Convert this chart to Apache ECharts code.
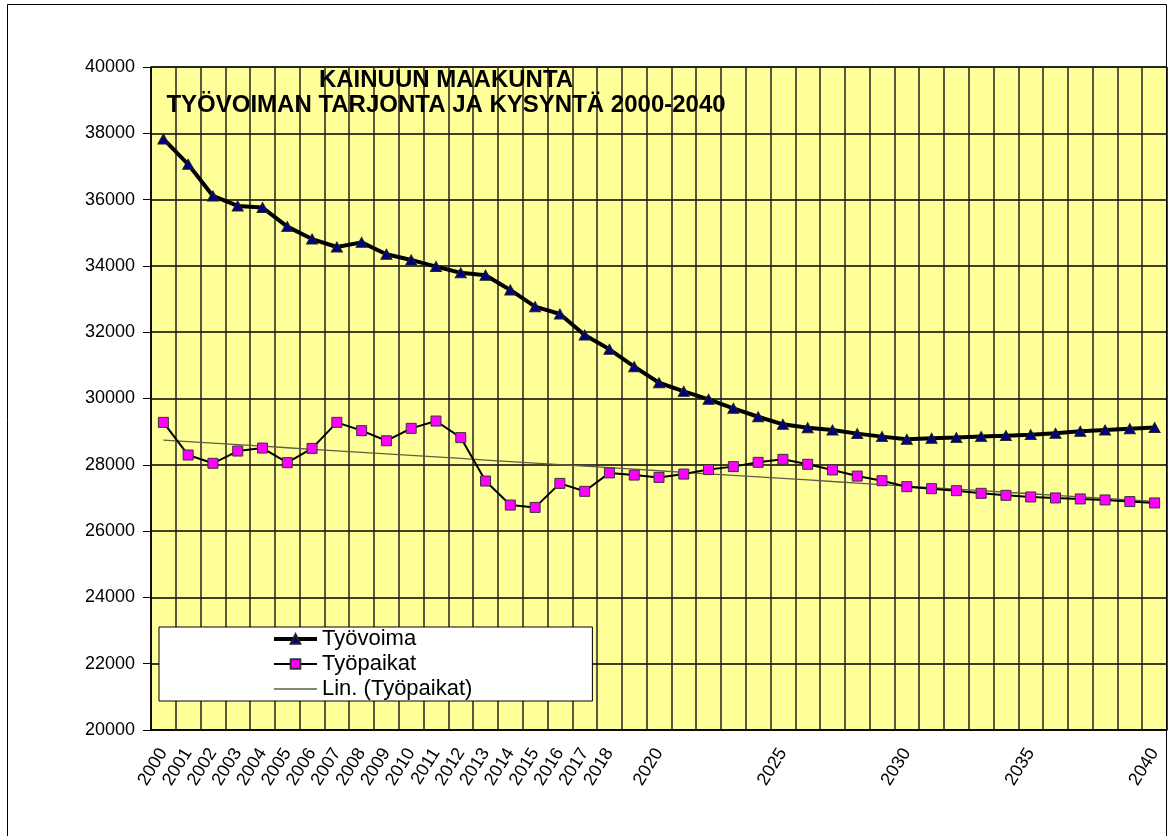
<!DOCTYPE html>
<html>
<head>
<meta charset="utf-8">
<script src="https://cdn.jsdelivr.net/npm/echarts@6/dist/echarts.min.js"></script>
<style>
html, body { margin: 0; padding: 0; background: #fff; }
#chart { width: 1168px; height: 836px; }
</style>
</head>
<body>
<div id="chart"></div>
<script>
// vuodet (x-akseli)
var vuodet = ['2000','2001','2002','2003','2004','2005','2006','2007','2008','2009',
  '2010','2011','2012','2013','2014','2015','2016','2017','2018','2019',
  '2020','2021','2022','2023','2024','2025','2026','2027','2028','2029',
  '2030','2031','2032','2033','2034','2035','2036','2037','2038','2039','2040'];

// työvoiman tarjonta
var tyovoima = [37830, 37065, 36110, 35810, 35760, 35185, 34810, 34570, 34710, 34350,
  34180, 33980, 33790, 33720, 33275, 32770, 32550, 31915, 31485, 30960,
  30475, 30215, 29975, 29705, 29450, 29220, 29120, 29050, 28940, 28850,
  28770, 28800, 28820, 28850, 28880, 28910, 28950, 29010, 29050, 29090, 29125];

// työpaikat (kysyntä)
var tyopaikat = [29280, 28295, 28045, 28415, 28505, 28065, 28495, 29280, 29030, 28725,
  29100, 29320, 28820, 27510, 26785, 26715, 27440, 27200, 27755, 27690,
  27620, 27720, 27855, 27945, 28075, 28165, 28015, 27845, 27660, 27520,
  27340, 27280, 27220, 27140, 27080, 27030, 27000, 26970, 26940, 26890, 26850];

// y-akselin jaotus
var yMin = 20000, yMax = 40000, yStep = 2000;

// lineaarinen trendi (Lin. Työpaikat), pienimmän neliösumman sovitus
function linTrend(arr) {
  var n = arr.length, sx = 0, sy = 0, sxx = 0, sxy = 0;
  arr.forEach(function (v, i) { sx += i; sy += v; sxx += i * i; sxy += i * v; });
  var b = (n * sxy - sx * sy) / (n * sxx - sx * sx);
  var a = (sy - b * sx) / n;
  return arr.map(function (v, i) { return Math.round(a + b * i); });
}
var trendi = linTrend(tyopaikat);

var font = "'Liberation Sans', Arial, sans-serif";
var chart = echarts.init(document.getElementById('chart'));

var option = {
  animation: false,
  backgroundColor: '#fff',
  textStyle: { fontFamily: font, color: '#000' },
  title: {
    text: 'KAINUUN MAAKUNTA\nTYÖVOIMAN TARJONTA JA KYSYNTÄ 2000-2040',
    left: 441,
    top: 63,
    textAlign: 'center',
    textStyle: { fontFamily: font, fontSize: 24, fontWeight: 'bold', color: '#000', lineHeight: 25, align: 'center' }
  },
  graphic: [{
    type: 'rect',
    shape: { x: 7.5, y: 4.5, width: 1159, height: 840 },
    style: { fill: 'none', stroke: '#000', lineWidth: 1 },
    silent: true,
    z: 100
  }],
  legend: {
    orient: 'vertical',
    left: 159,
    top: 627,
    itemWidth: 43,
    itemHeight: 12,
    itemGap: 3,
    padding: [1, 120, 1, 113],
    backgroundColor: '#fff',
    borderColor: '#000',
    borderWidth: 1,
    textStyle: { fontFamily: font, fontSize: 22, color: '#000', lineHeight: 22 },
    data: [
      { name: 'Työvoima', lineStyle: { width: 4 } },
      { name: 'Työpaikat', lineStyle: { width: 2 } },
      { name: 'Lin. (Työpaikat)', lineStyle: { width: 1.3 }, itemStyle: { opacity: 0 } }
    ]
  },
  grid: {
    left: 151, right: 1, top: 67, bottom: 106,
    show: true,
    backgroundColor: '#ffff99',
    borderColor: '#333',
    borderWidth: 1
  },
  xAxis: {
    type: 'category',
    data: vuodet,
    boundaryGap: true,
    axisLine: { lineStyle: { color: '#000', width: 1.5 } },
    axisTick: { show: false },
    axisLabel: {
      rotate: 58,
      fontSize: 18,
      color: '#000',
      margin: 20,
      interval: function (i, v) { return +v <= 2018 || +v % 5 === 0; }
    },
    splitLine: { show: true, interval: 0, lineStyle: { color: '#222', width: 1.5 } }
  },
  yAxis: {
    type: 'value',
    min: yMin, max: yMax, interval: yStep,
    axisLine: { show: true, lineStyle: { color: '#000', width: 1.5 } },
    axisTick: { show: true, length: 8, lineStyle: { color: '#000' } },
    axisLabel: { fontSize: 18, color: '#000', margin: 16, formatter: function (v) { return String(v); } },
    splitLine: { lineStyle: { color: '#000', width: 1.5 } }
  },
  series: [
    {
      name: 'Työvoima',
      type: 'line',
      data: tyovoima,
      symbol: 'triangle',
      symbolSize: [11, 10],
      lineStyle: { color: '#000', width: 4 },
      itemStyle: { color: '#000080', borderColor: '#222', borderWidth: 1 },
      z: 4
    },
    {
      name: 'Työpaikat',
      type: 'line',
      data: tyopaikat,
      symbol: 'rect',
      symbolSize: 10,
      lineStyle: { color: '#000', width: 2 },
      itemStyle: { color: '#ff00ff', borderColor: '#333', borderWidth: 1 },
      z: 3
    },
    {
      name: 'Lin. (Työpaikat)',
      type: 'line',
      data: trendi,
      symbol: 'none',
      lineStyle: { color: '#5c5c4a', width: 1.3 },
      itemStyle: { color: '#5c5c4a' },
      z: 2
    }
  ]
};
chart.setOption(option);
</script>
</body>
</html>
